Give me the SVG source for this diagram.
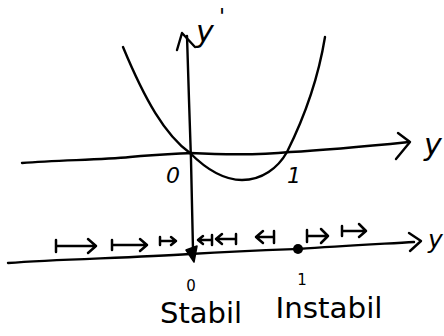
<svg xmlns="http://www.w3.org/2000/svg" width="444" height="336" viewBox="0 0 444 336">
<style>
.ln{fill:none;stroke:#000;stroke-width:2.4;stroke-linecap:round;stroke-linejoin:round}
.ar{fill:none;stroke:#000;stroke-width:2.5;stroke-linecap:round;stroke-linejoin:round}
.tx{font-family:"DejaVu Sans","Liberation Sans",sans-serif;fill:#000}
</style>
<rect width="444" height="336" fill="#fff"/>
<g id="connectors">
  <path id="axis-yprime" class="ln" d="M187,36 L189,100 L191,160 L193,250"/>
  <path class="ln" d="M177,50 L182,33 L195,47"/>
  <path id="axis-y-top" class="ln" d="M22,163 C60,160 100,160 130,157 C160,154 175,154 190,153 C230,155 260,155 290,152 C330,150 370,146 409,142"/>
  <path class="ln" d="M398,133 L410,142 L396,159"/>
  <path id="parabola" class="ln" d="M123,47 C145,100 165,135 190,153 C205,168 222,180 242,180 C262,180 278,168 287,152 C303,120 318,80 325,37"/>
  <path id="phase-line" class="ln" d="M8,263 C60,259 130,258 190,254 C240,251 270,250 298,249 C340,246 380,244 414,242"/>
  <path class="ln" d="M409,233 L421,241 L410,251"/>
</g>
<g id="phase-arrows">
  <path class="ar" d="M56,240 L56,252 M56,246 L96,246 M88,239 L96,246 L88,253"/>
  <path class="ar" d="M112,240 L112,250 M112,245 L147,245 M140,239 L147,245 L140,251"/>
  <path class="ar" d="M160,237 L160,245 M160,241 L176,241 M171,237 L176,241 L171,245"/>
  <path class="ar" d="M212,235 L212,245 M212,240 L198,240 M203,236 L198,240 L203,244"/>
  <path class="ar" d="M236,234 L236,244 M236,239 L216,239 M222,234 L216,239 L222,244"/>
  <path class="ar" d="M274,231 L274,243 M274,237 L256,237 M263,231 L256,237 L263,243"/>
  <path class="ar" d="M307,230 L307,242 M307,236 L328,236 M321,229 L328,236 L321,243"/>
  <path class="ar" d="M342,226 L342,236 M342,231 L366,231 M359,224 L366,231 L359,237"/>
</g>
<g id="node-0">
  <path d="M186,250 L197,246 L194,262 Z" fill="#000" stroke="#000" stroke-width="1.5" stroke-linejoin="round"/>
  <text class="tx" x="191" y="291" font-size="15" text-anchor="middle">0</text>
  <text class="tx" x="201" y="323" font-size="28" text-anchor="middle" textLength="82" lengthAdjust="spacingAndGlyphs">Stabil</text>
</g>
<g id="node-1">
  <circle cx="298" cy="249" r="5" fill="#000"/>
  <text class="tx" x="302" y="285" font-size="15" text-anchor="middle">1</text>
  <text class="tx" x="329" y="318" font-size="28" text-anchor="middle" textLength="107" lengthAdjust="spacingAndGlyphs">Instabil</text>
</g>
<g id="labels">
  <text class="tx" x="196" y="42" font-size="30" font-style="italic">y</text>
  <text class="tx" x="219" y="24" font-size="22" font-style="italic">'</text>
  <text class="tx" x="424" y="155" font-size="30" font-style="italic">y</text>
  <text class="tx" x="428" y="248" font-size="25" font-style="italic">y</text>
  <text class="tx" x="166" y="183" font-size="22" font-style="italic">0</text>
  <text class="tx" x="287" y="183" font-size="22" font-style="italic">1</text>
</g>
</svg>
